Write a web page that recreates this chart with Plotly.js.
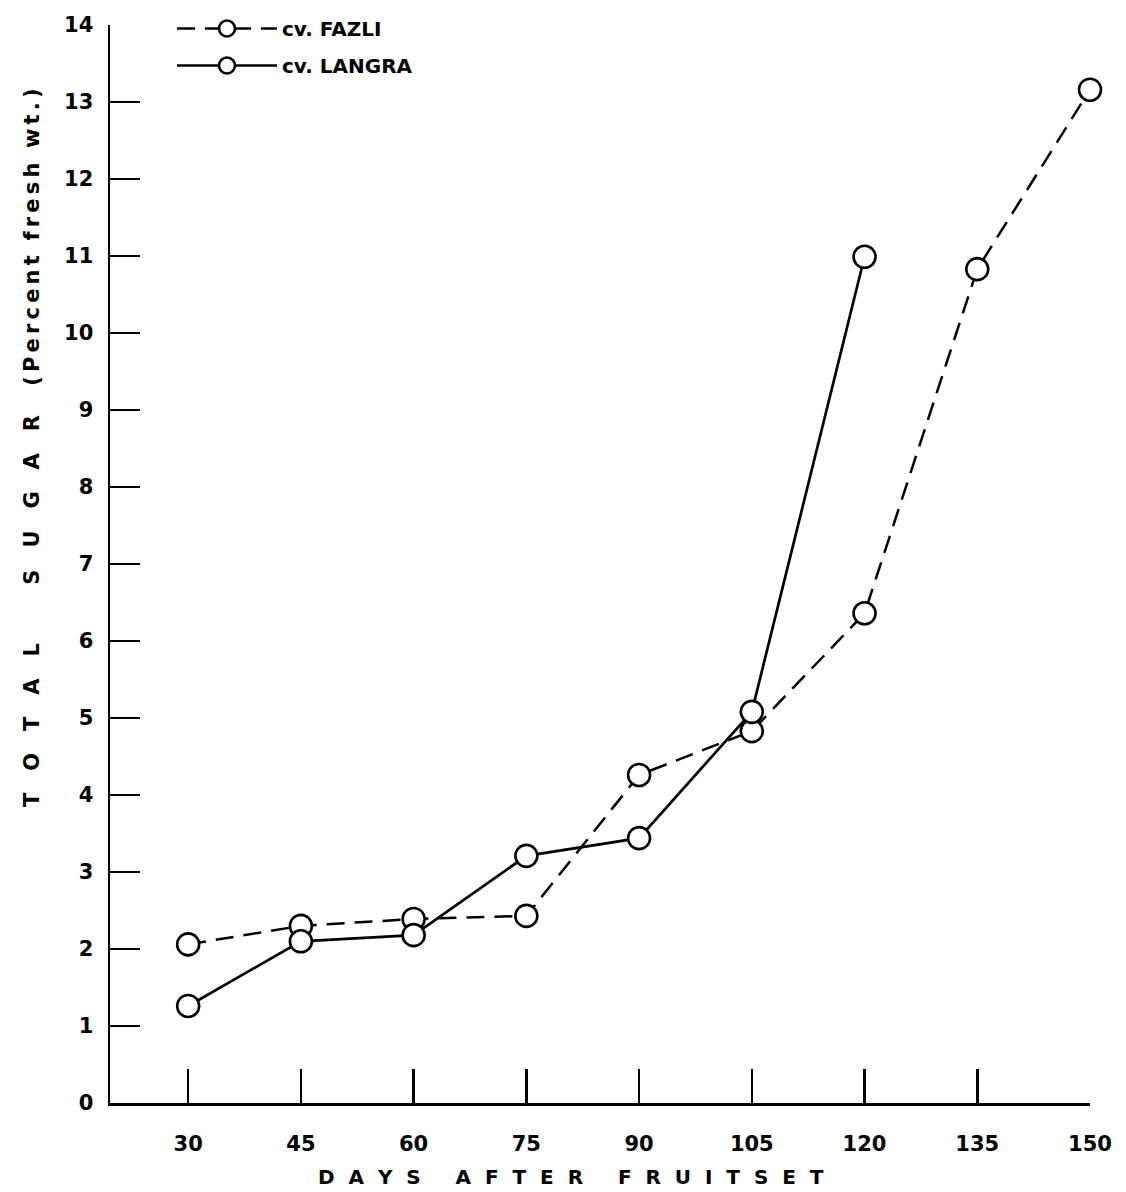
<!DOCTYPE html>
<html>
<head>
<meta charset="utf-8">
<script src="https://cdn.plot.ly/plotly-3.0.1.min.js"></script>
<style>html,body{margin:0;padding:0;background:#fff;}#chart{width:1126px;height:1192px;}</style>
</head>
<body>
<div id="chart"></div>
<script>
const days = [30, 45, 60, 75, 90, 105, 120, 135, 150];
const fazliDays = [30, 45, 60, 75, 90, 105, 120, 135, 150];
const fazliSugar = [2.06, 2.30, 2.39, 2.43, 4.26, 4.83, 6.36, 10.83, 13.16];
const langraDays = [30, 45, 60, 75, 90, 105, 120];
const langraSugar = [1.26, 2.10, 2.18, 3.21, 3.44, 5.08, 10.99];
const yTicks = [0,1,2,3,4,5,6,7,8,9,10,11,12,13,14];

const NB = '\u00a0', TH = '\u2009';
function spaced(word, gap) { return word.split('').join(gap); }
const xTitle = ['DAYS', 'AFTER', 'FRUITSET'].map(w => spaced(w, NB + NB)).join(NB.repeat(5));
const yTitle = ['TOTAL', 'SUGAR'].map(w => spaced(w, NB + NB + NB)).join(NB.repeat(8)) + NB.repeat(4) +
  ['(Percent', 'fresh', 'wt.)'].map(w => spaced(w, TH)).join(NB + NB);

const markerStyle = {symbol: 'circle', size: 22, color: '#fff', line: {color: '#000', width: 2.6}};

const traces = [
  {x: fazliDays, y: fazliSugar, name: 'cv.' + NB + 'FAZLI', legendgroup: 'a', mode: 'lines+markers', cliponaxis: false,
   line: {color: '#000', width: 2.5, dash: '18px,10px'}, marker: markerStyle},
  {x: langraDays, y: langraSugar, name: 'cv.' + NB + 'LANGRA', legendgroup: 'b', mode: 'lines+markers', cliponaxis: false,
   line: {color: '#000', width: 2.7}, marker: markerStyle}
];

const layout = {
  width: 1126, height: 1192,
  margin: {l: 110, r: 36, t: 25, b: 89, autoexpand: false},
  paper_bgcolor: '#fff', plot_bgcolor: '#fff',
  showlegend: true,
  legend: {xref: 'container', yref: 'container', x: 172 / 1126, y: 1 - 9 / 1192, xanchor: 'left', yanchor: 'top',
    bgcolor: 'rgba(0,0,0,0)',
    font: {family: 'DejaVu Sans, sans-serif', size: 20, color: '#000', weight: 'bold'},
    tracegroupgap: 8, itemwidth: 100},
  xaxis: {
    range: [19.6, 150], tickvals: days, ticktext: days.map(String),
    showline: true, linecolor: '#000', linewidth: 2.5, showgrid: false, zeroline: false,
    ticks: 'inside', ticklen: 34, tickwidth: 2.5, tickcolor: '#000',
    ticklabelstandoff: 20,
    tickfont: {family: 'DejaVu Sans, sans-serif', size: 21, color: '#000', weight: 'bold'}
  },
  yaxis: {
    range: [0, 14], tickvals: yTicks, ticktext: yTicks.map(String),
    showline: true, linecolor: '#000', linewidth: 2.5, showgrid: false, zeroline: false,
    ticks: 'inside', ticklen: 30, tickwidth: 2.5, tickcolor: '#000',
    ticklabelstandoff: 10,
    tickfont: {family: 'DejaVu Sans, sans-serif', size: 21, color: '#000', weight: 'bold'}
  },
  annotations: [
    {text: xTitle, xref: 'paper', yref: 'paper', x: (571 - 110) / 980, y: -(1177 - 1103) / 1078,
     xanchor: 'center', yanchor: 'middle', showarrow: false,
     font: {family: 'DejaVu Sans, sans-serif', size: 20, color: '#000', weight: 'bold'}},
    {text: yTitle, xref: 'paper', yref: 'paper', x: -(110 - 32) / 980, y: (1103 - 448) / 1078,
     xanchor: 'center', yanchor: 'middle', textangle: -90, showarrow: false,
     font: {family: 'DejaVu Sans, sans-serif', size: 21, color: '#000', weight: 'bold'}}
  ]
};

Plotly.newPlot('chart', traces, layout, {displayModeBar: false, staticPlot: true});
</script>
</body>
</html>
